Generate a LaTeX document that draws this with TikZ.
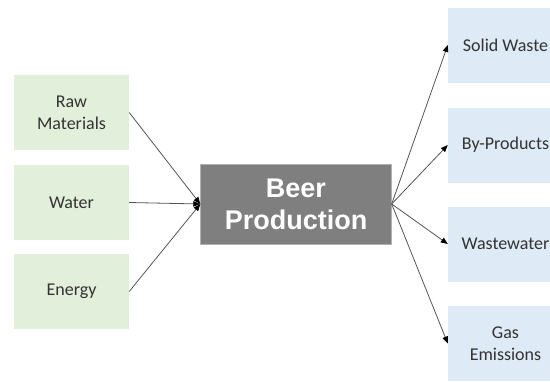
\documentclass[tikz,border=0pt]{standalone}
\usepackage{fontspec}
\setmainfont{Carlito}
\newfontfamily\arialfont{Liberation Sans}
\usetikzlibrary{positioning, arrows.meta}
\definecolor{inbox}{HTML}{E2EFDA}
\definecolor{outbox}{HTML}{DEEAF6}
\definecolor{procbox}{HTML}{7F7F7F}
\definecolor{linegray}{HTML}{555555}
\tikzset{
    >={Triangle[length=7pt,width=5.5pt,color=black]}, % Filled arrowheads
    input/.style={fill=inbox, minimum width=115pt, minimum height=75pt, align=center,
        text=black!80, font=\fontsize{18}{22}\selectfont}, % Inputs on the left
    output/.style={fill=outbox, minimum width=115pt, minimum height=75pt, align=center,
        text=black!80, font=\fontsize{18}{22}\selectfont}, % Outputs on the right
    process/.style={fill=procbox, draw=gray!60, minimum width=191pt, minimum height=80pt,
        align=center, text=white, font=\arialfont\bfseries\fontsize{27}{32}\selectfont},
    flow/.style={->, draw=linegray, line width=0.8pt},
}

\begin{document}
\begin{tikzpicture}[x=1pt, y=-1pt]
    \useasboundingbox (0,0) rectangle (550,381);
    \clip (0,0) rectangle (550,381);

    % inputs
    \node[input] (raw) at (71.5,112.5) {Raw\\Materials};
    \node[input] (water) at (71.5,202.5) {Water};
    \node[input] (energy) at (71.5,291.5) {Energy};

    % process
    \node[process] (beer) at (296,204) {Beer\\Production};

    % outputs
    \node[output] (solid) at (505.5,45) {Solid Waste};
    \node[output] (byprod) at (505.5,145) {By-Products};
    \node[output] (wastew) at (505.5,244) {Wastewater};
    \node[output] (gas) at (505.5,343.5) {Gas\\Emissions};

    \path[every edge/.append style=flow]
        (raw.east) edge (beer.west)
        (water.east) edge (beer.west)
        (energy.east) edge (beer.west);
    \path[every edge/.append style=flow]
        (beer.east) edge (solid.west)
        (beer.east) edge (byprod.west)
        (beer.east) edge (wastew.west)
        (beer.east) edge (gas.west);
\end{tikzpicture}
\end{document}
